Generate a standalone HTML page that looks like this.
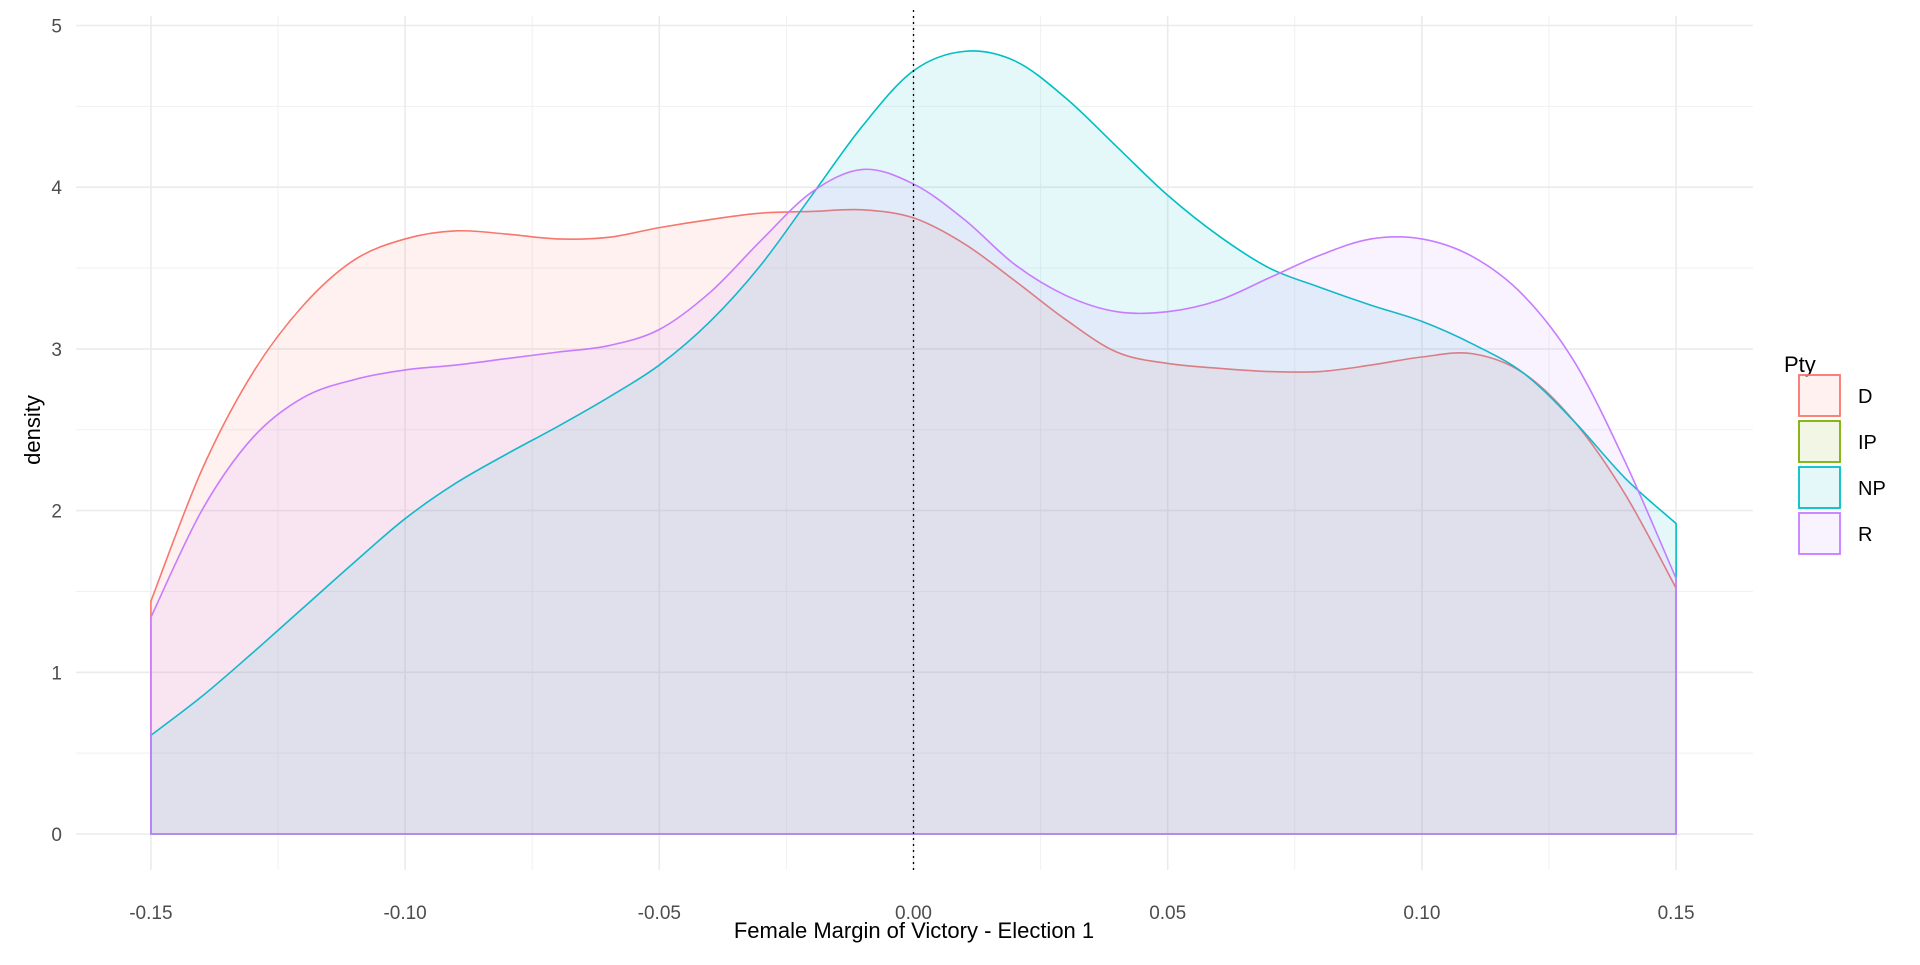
<!DOCTYPE html>
<html><head><meta charset="utf-8"><style>
body{margin:0;background:#fff;}
svg text{font-family:"Liberation Sans",Arial,sans-serif;}
</style></head><body>
<svg id="chart" width="1920" height="960" xmlns="http://www.w3.org/2000/svg">
<g id="grid"></g>
<g id="marks"></g>
<g id="axes"></g>
<text x="914" y="938" font-size="22" text-anchor="middle" fill="#000">Female Margin of Victory - Election 1</text>
<text transform="translate(40,430) rotate(-90)" font-size="22" text-anchor="middle" fill="#000">density</text>
<g id="legend"></g>
</svg>
<script>
const xs = [-0.15,-0.14,-0.13,-0.12,-0.11,-0.10,-0.09,-0.08,-0.07,-0.06,-0.05,-0.04,-0.03,-0.02,-0.01,0,0.01,0.02,0.03,0.04,0.05,0.06,0.07,0.08,0.09,0.10,0.11,0.12,0.13,0.14,0.15];
const seriesD = [1.44,2.25,2.85,3.27,3.55,3.68,3.73,3.71,3.68,3.69,3.75,3.80,3.84,3.85,3.86,3.81,3.65,3.42,3.18,2.98,2.91,2.88,2.86,2.86,2.90,2.95,2.97,2.85,2.55,2.10,1.52];
const seriesNP = [0.61,0.85,1.12,1.40,1.68,1.95,2.17,2.35,2.52,2.70,2.90,3.17,3.52,3.95,4.38,4.72,4.84,4.78,4.55,4.25,3.95,3.70,3.50,3.38,3.27,3.17,3.03,2.85,2.55,2.20,1.92];
const seriesR = [1.34,2.00,2.45,2.70,2.81,2.87,2.90,2.94,2.98,3.02,3.12,3.35,3.67,3.97,4.11,4.02,3.80,3.52,3.33,3.23,3.23,3.30,3.44,3.58,3.68,3.68,3.57,3.33,2.92,2.30,1.58];
const xTicks = [-0.15,-0.10,-0.05,0,0.05,0.10,0.15];
const xTickLabels = ["-0.15","-0.10","-0.05","0.00","0.05","0.10","0.15"];
const yTicks = [0,1,2,3,4,5];
const legendLabels = ["D","IP","NP","R"];
const legendColors = ["#F8766D","#7CAE00","#00BFC4","#C77CFF"];

const NS="http://www.w3.org/2000/svg";
const X = v => 913.5 + v/0.05*254.2;
const Y = v => 834 - v*161.7;
function mk(tag, attrs, parent){const e=document.createElementNS(NS,tag);for(const k in attrs)e.setAttribute(k,attrs[k]);parent.appendChild(e);return e;}
const grid=document.getElementById('grid'), marks=document.getElementById('marks'), axes=document.getElementById('axes'), legend=document.getElementById('legend');
for(let i=0;i<yTicks.length-1;i++){const v=(yTicks[i]+yTicks[i+1])/2;
  const l=mk('line',{x1:76,x2:1753,y1:Y(v),y2:Y(v),stroke:'#f1f1f1','stroke-width':1},grid);
  
  }
for(let i=0;i<xTicks.length-1;i++){const v=(xTicks[i]+xTicks[i+1])/2;
  const l=mk('line',{x1:X(v),x2:X(v),y1:16,y2:870,stroke:'#f1f1f1','stroke-width':1},grid);
  
  }
yTicks.forEach(v=>{
  const l=mk('line',{x1:76,x2:1753,y1:Y(v),y2:Y(v),stroke:'#ebebeb','stroke-width':1.6},grid);
  
  
  const t=mk('text',{x:62,y:Y(v)+7,'font-size':19,'text-anchor':'end',fill:'#4d4d4d'},axes);
  t.textContent=String(v);
  
  
});
xTicks.forEach((v,i)=>{
  const l=mk('line',{x1:X(v),x2:X(v),y1:16,y2:870,stroke:'#ebebeb','stroke-width':1.6},grid);
  
  
  const t=mk('text',{x:X(v),y:919,'font-size':19,'text-anchor':'middle',fill:'#4d4d4d'},axes);
  t.textContent=xTickLabels[i];
  
  
});
function smoothPath(pts){
  let d='';
  for(let i=0;i<pts.length-1;i++){
    const p0=pts[Math.max(0,i-1)],p1=pts[i],p2=pts[i+1],p3=pts[Math.min(pts.length-1,i+2)];
    const c1x=p1[0]+(p2[0]-p0[0])/6,c1y=p1[1]+(p2[1]-p0[1])/6;
    const c2x=p2[0]-(p3[0]-p1[0])/6,c2y=p2[1]-(p3[1]-p1[1])/6;
    d+=' C'+c1x+','+c1y+' '+c2x+','+c2y+' '+p2[0]+','+p2[1];
  }
  return d;
}
function area(vals,color,name){
  const pts=xs.map((x,i)=>[X(x),Y(vals[i])]);
  let d='M'+X(xs[0])+','+Y(0)+' L'+pts[0][0]+','+pts[0][1]+smoothPath(pts);
  d+=' L'+X(xs[xs.length-1])+','+Y(0)+' Z';
  const p=mk('path',{d:d,fill:color,'fill-opacity':0.1,stroke:color,'stroke-width':1.6,'stroke-linejoin':'round'},marks);
  
  
}
area(seriesD,'#F8766D','density-d');
area(seriesNP,'#00BFC4','density-np');
area(seriesR,'#C77CFF','density-r');
const vl=mk('line',{x1:X(0),x2:X(0),y1:10,y2:870,stroke:'#000','stroke-width':1.3,'stroke-dasharray':'2,4'},marks);


const lt=mk('text',{x:1784,y:372,'font-size':22,fill:'#000'},legend);
lt.textContent='Pty';


legendLabels.forEach((lab,i)=>{
  const y0=374+i*46;
  const r=mk('rect',{x:1799,y:y0+1,width:41,height:41,fill:legendColors[i],'fill-opacity':0.1,stroke:legendColors[i],'stroke-width':1.8},legend);
  
  
  const t=mk('text',{x:1858,y:y0+29,'font-size':20,fill:'#000'},legend);
  t.textContent=lab;
  
  
});
</script>
</body></html>
